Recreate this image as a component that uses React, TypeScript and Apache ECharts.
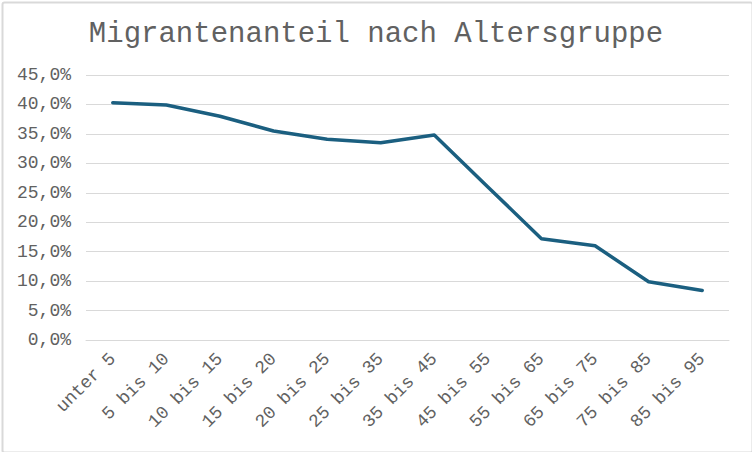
import { useEffect, useRef } from "react";
import * as echarts from "echarts";
import type { EChartsOption } from "echarts";

const AGE_GROUPS = [
  "unter 5",
  "5 bis 10",
  "10 bis 15",
  "15 bis 20",
  "20 bis 25",
  "25 bis 35",
  "35 bis 45",
  "45 bis 55",
  "55 bis 65",
  "65 bis 75",
  "75 bis 85",
  "85 bis 95",
];

const MIGRANT_SHARE = [40.3, 39.9, 38.0, 35.5, 34.1, 33.5, 34.8, 26.0, 17.2, 16.0, 9.9, 8.4];

const Y_MIN = 0;
const Y_MAX = 45;
const Y_STEP = 5;

const FONT = "'Courier New', 'Liberation Mono', monospace";
const TEXT_COLOR = "#616161";
const GRID_COLOR = "#d9d9d9";

export default function App() {
  const chartDiv = useRef<HTMLDivElement | null>(null);

  useEffect(() => {
    const el = chartDiv.current;
    if (!el) {
      return;
    }

    const chart = echarts.init(el, null, { renderer: "svg" });

    const option = {
      animation: false,
      backgroundColor: "#ffffff",
      title: {
        text: "Migrantenanteil nach Altersgruppe",
        left: "center",
        top: 15,
        textStyle: {
          fontFamily: FONT,
          fontSize: 29,
          fontWeight: "normal",
          color: TEXT_COLOR,
        },
      },
      graphic: [
        {
          type: "rect",
          left: 0,
          top: 0,
          shape: { x: 1, y: 1, width: 750, height: 450, r: 2 },
          style: { fill: "none", stroke: GRID_COLOR, lineWidth: 2 },
          silent: true,
        },
      ],
      grid: {
        left: 86,
        right: 23,
        top: 75,
        bottom: 112,
      },
      xAxis: {
        type: "category",
        data: AGE_GROUPS,
        boundaryGap: true,
        axisTick: { show: false },
        axisLine: { lineStyle: { color: GRID_COLOR, width: 1 } },
        axisLabel: {
          interval: 0,
          rotate: 45,
          margin: 16,
          fontFamily: FONT,
          fontSize: 18,
          color: TEXT_COLOR,
        },
      },
      yAxis: {
        type: "value",
        min: Y_MIN,
        max: Y_MAX,
        interval: Y_STEP,
        axisLine: { show: false },
        axisTick: { show: false },
        splitLine: { lineStyle: { color: GRID_COLOR, width: 1 } },
        axisLabel: {
          margin: 15,
          fontFamily: FONT,
          fontSize: 18,
          color: TEXT_COLOR,
          formatter: (v: number) => v.toFixed(1).replace(".", ",") + "%",
        },
      },
      series: [
        {
          type: "line",
          data: MIGRANT_SHARE,
          showSymbol: false,
          symbol: "none",
          lineStyle: { color: "#1b5f80", width: 3.5, cap: "round", join: "round" },
        },
      ],
    } as EChartsOption;

    chart.setOption(option);

    return () => {
      chart.dispose();
    };
  }, []);

  return (
    <div
      ref={chartDiv}
      style={{ position: "absolute", left: 0, top: 0, width: 752, height: 452 }}
    />
  );
}
